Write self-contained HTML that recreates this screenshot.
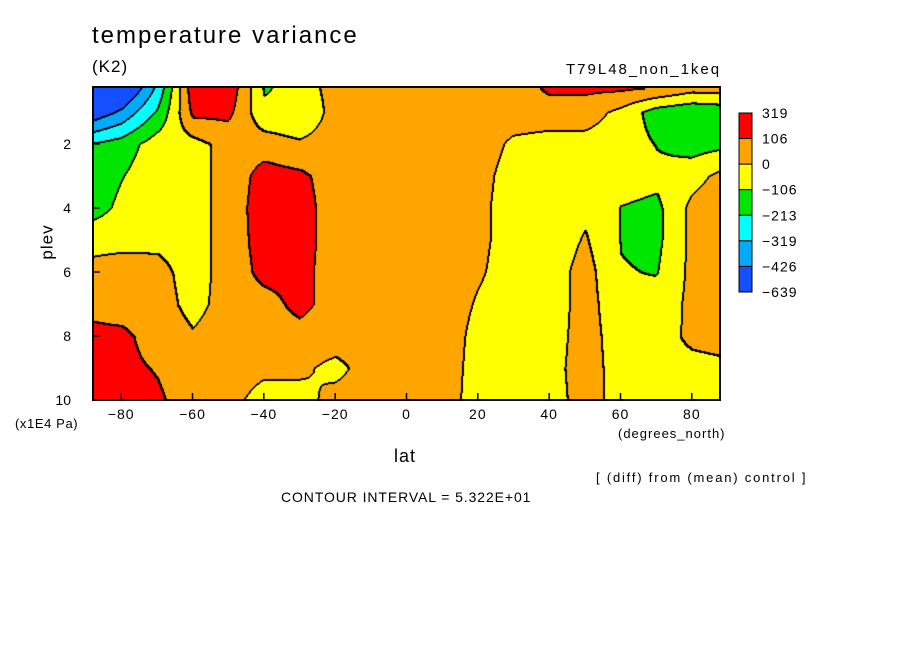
<!DOCTYPE html>
<html><head><meta charset="utf-8"><style>
body{margin:0;background:#fff;}
#w{position:relative;width:904px;height:654px;overflow:hidden;font-family:"Liberation Sans",sans-serif;color:#000;}
.t{position:absolute;white-space:nowrap;}
canvas{position:absolute;left:93px;top:87px;}
</style></head><body>
<div id="w">
<div class="t" style="left:92px;top:22px;font-size:24px;letter-spacing:2px;">temperature variance</div>
<div class="t" style="left:92px;top:57px;font-size:17px;letter-spacing:1px;">(K2)</div>
<div class="t" style="left:566px;top:61px;font-size:15px;letter-spacing:2px;">T79L48_non_1keq</div>
<canvas id="cv" width="627" height="313"></canvas>
<svg id="sv" width="904" height="654" style="position:absolute;left:0;top:0"></svg>
<div class="t" style="left:30px;top:232px;font-size:17px;transform:rotate(-90deg);letter-spacing:1px;">plev</div>
<div class="t" style="left:15px;top:416px;font-size:13px;letter-spacing:0.6px;">(x1E4 Pa)</div>
<div class="t" style="left:394px;top:446px;font-size:18px;letter-spacing:1px;">lat</div>
<div class="t" style="left:618px;top:426px;font-size:13px;letter-spacing:1px;">(degrees_north)</div>
<div class="t" style="left:596px;top:470px;font-size:13px;letter-spacing:1.8px;">[ (diff) from (mean) control ]</div>
<div class="t" style="left:281px;top:489px;font-size:14px;letter-spacing:0.9px;">CONTOUR INTERVAL = 5.322E+01</div>
</div>
<script>
const lats=[-88,-80,-70,-60,-50,-40,-30,-20,-10,0,10,20,30,40,50,60,70,80,88];
const plevs=[0.2,1,2,3,4,5,6,7,8,9,10];
const grid=[
[-700,-600,-300,180,180,-120,-60,50,50,50,50,50,50,130,130,130,110,50,50],
[-500,-400,-200,130,130,-80,-100,50,50,50,50,50,50,50,50,-30,-160,-200,-180],
[-200,-160,-50,-40,40,60,20,50,50,50,50,50,-20,-40,-40,-50,-110,-150,-130],
[-170,-110,-40,-40,40,150,130,50,50,50,50,30,-40,-50,-40,-60,-80,-40,30],
[-150,-80,-40,-40,40,170,150,50,50,50,50,20,-40,-60,-20,-110,-130,30,60],
[-30,-30,-20,-40,40,160,150,50,50,50,50,20,-40,-60,10,-110,-130,30,60],
[30,50,30,-40,40,140,140,50,50,50,50,10,-40,-50,40,-100,-110,30,60],
[80,60,40,-30,40,60,140,50,50,50,50,-10,-40,-50,40,-70,-70,30,50],
[130,130,60,10,50,50,60,50,50,50,50,-30,-50,-40,40,-50,-40,20,30],
[140,130,100,50,50,20,20,-30,50,50,50,-40,-50,-30,40,-40,-30,-30,-20],
[150,140,120,60,30,-40,-40,40,50,50,40,-40,-40,-30,30,-30,-30,-30,-30]];
const levels=[-426,-319,-213,-106,0,106];
const colors=["#1450ff","#00aaff","#00ffff","#00e600","#ffff00","#ffa500","#ff0000"];
const cbLabels=["319","106","0","-106","-213","-319","-426","-639"];
const xTicks=[-80,-60,-40,-20,0,20,40,60,80];
const yTicks=[2,4,6,8,10];
const L=93,T=87,W=627,H=313,LATMIN=-87.9,LATMAX=87.9,PTOP=0.22,PBOT=10;
function xs(lat){return L+(lat-LATMIN)/(LATMAX-LATMIN)*W;}
function ys(p){return T+(p-PTOP)/(PBOT-PTOP)*H;}
function idx(arr,v){let i=0;while(i<arr.length-2&&v>arr[i+1])i++;let f=(v-arr[i])/(arr[i+1]-arr[i]);return [i,Math.max(0,Math.min(1,f))];}
function val(lat,p){const [i,fx]=idx(lats,lat),[j,fy]=idx(plevs,p);
const a=grid[j][i],b=grid[j][i+1],c=grid[j+1][i],d=grid[j+1][i+1];
return (a*(1-fx)+b*fx)*(1-fy)+(c*(1-fx)+d*fx)*fy;}
function lev(v){let k=0;while(k<levels.length&&v>=levels[k])k++;return k;}
const cv=document.getElementById('cv'),ctx=cv.getContext('2d');
const img=ctx.createImageData(W,H);const K=new Int8Array(W*H);
const rgb=colors.map(c=>[parseInt(c.substr(1,2),16),parseInt(c.substr(3,2),16),parseInt(c.substr(5,2),16)]);
for(let y=0;y<H;y++)for(let x=0;x<W;x++){
const lat=LATMIN+(x+0.5)/W*(LATMAX-LATMIN),p=PTOP+(y+0.5)/H*(PBOT-PTOP);
K[y*W+x]=lev(val(lat,p));}
for(let y=0;y<H;y++)for(let x=0;x<W;x++){
const k=K[y*W+x];let edge=(x>0&&K[y*W+x-1]!==k)||(y>0&&K[(y-1)*W+x]!==k)||(x>1&&K[y*W+x-2]!==k)||(y>1&&K[(y-2)*W+x]!==k);
const o=(y*W+x)*4;const c=edge?[0,0,0]:rgb[k];
img.data[o]=c[0];img.data[o+1]=c[1];img.data[o+2]=c[2];img.data[o+3]=255;}
ctx.putImageData(img,0,0);
const sv=document.getElementById('sv'),NS='http://www.w3.org/2000/svg';
function el(t,a){const e=document.createElementNS(NS,t);for(const k in a)e.setAttribute(k,a[k]);sv.appendChild(e);return e;}
const fr=el('rect',{x:L,y:T,width:W,height:H,fill:'none',stroke:'#000','stroke-width':2});


xTicks.forEach(v=>{const x=xs(v);
const tk=el('line',{x1:x,x2:x,y1:T+H,y2:T+H-7,stroke:'#000','stroke-width':1.5});


const tx=el('text',{x:x,y:T+H+19,'text-anchor':'middle','font-size':14,'font-family':'Liberation Sans','letter-spacing':1});
tx.textContent=String(v).replace('-','\u2212');

});
yTicks.forEach(v=>{const y=ys(v);
const tk=el('line',{x1:L,x2:L+7,y1:y,y2:y,stroke:'#000','stroke-width':1.5});


const tx=el('text',{x:L-22,y:y+5,'text-anchor':'end','font-size':14,'font-family':'Liberation Sans'});
tx.textContent=v;

});
const cbx=739,cby=113,cbh=179/7;
for(let i=0;i<7;i++){
const r=el('rect',{x:cbx,y:cby+i*cbh,width:13,height:cbh,fill:colors[6-i],stroke:'#000','stroke-width':1});

}
cbLabels.forEach((s,i)=>{const t=el('text',{x:762,y:cby+i*cbh+5,'font-size':14,'font-family':'Liberation Sans','letter-spacing':1});
t.textContent=s.replace('-','\u2212');

});
</script>
</body></html>
